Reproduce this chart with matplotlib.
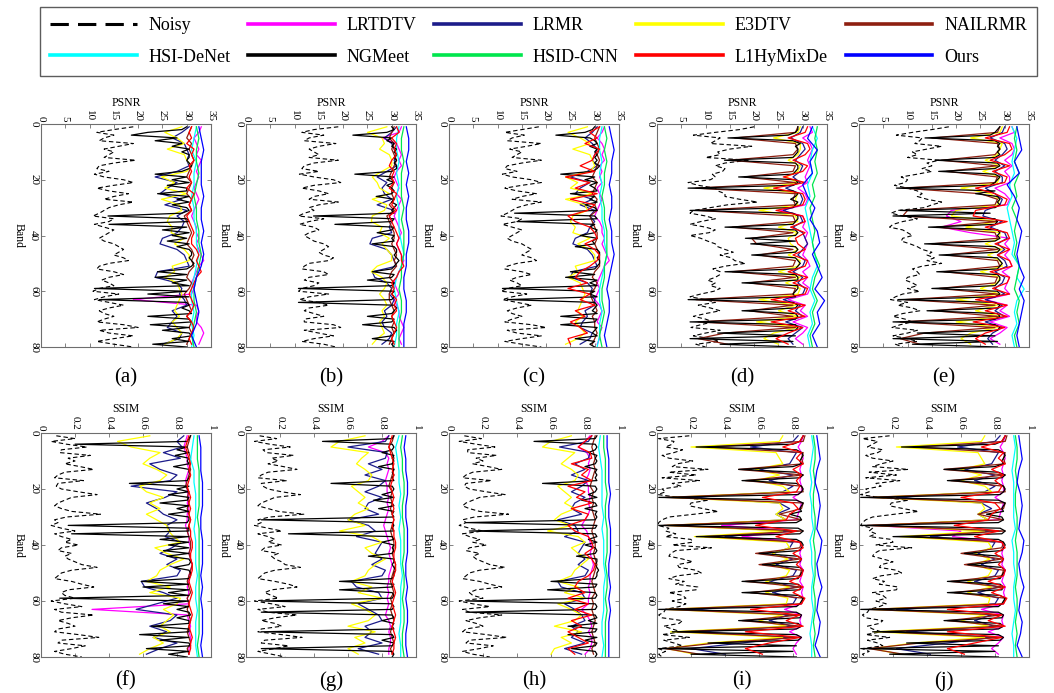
import numpy as np
import matplotlib
matplotlib.use("Agg")
import matplotlib.pyplot as plt
from matplotlib.lines import Line2D
from matplotlib.ticker import FuncFormatter

plt.rcParams['font.family'] = ['Liberation Serif', 'DejaVu Serif']

METHODS = ["Noisy", "LRTDTV", "LRMR", "E3DTV", "NAILRMR",
           "HSI-DeNet", "NGMeet", "HSID-CNN", "L1HyMixDe", "Ours"]
COLORS = {"Noisy": "black", "LRTDTV": "#ff00ff", "LRMR": "#1c1c8a",
          "E3DTV": "#ffff00", "NAILRMR": "#8e1f10", "HSI-DeNet": "#00ffff",
          "NGMeet": "black", "HSID-CNN": "#00e64d", "L1HyMixDe": "#ff0000",
          "Ours": "#0000ff"}

# ---------------- PSNR, case (a) ----------------
a_noisy = [19,15,11.5,15,13,12,19,16,13,15, 14,13,19.5,15,12,11.5,14,11,13,17,
           19,15,11.5,14,18,15,13,19,16,14, 13,12,10.7,15,14,11,13,15,14,13,
           12,13,15,16,17,16,15,17,18,14, 12,11.5,15,17,14,12.5,14,15,12,10.7,
           16,13,11,14,17,14,12,13,15,13, 11.5,17,20,12,14,19,15,11.5,15,19]
a_ngmeet = [30,29,22,18.6,28,23.5,29,27,30.5,29, 30.5,30.5,30,30.5,31,30.5,29,23.5,30,27,
            30.5,26,30,30,24,30.5,28,30.5,27,30, 30.5,29,13.8,30,30.5,14,30,25,30.5,27,
            30,26,30.5,28,30.5,31,31,30.5,31,31.5, 31,30,24,30,23.5,30,27,30.5,11,30,
            22,30.5,12,30,30.5,29,30.5,31,22,30.5, 31,22.5,30.5,25,30.5,31,27,30.5,23,30]
a_lrmr = [30.5,29,27,29.5,30,30.5,30,30.5,28,23.5, 28,26,24.5,29,25.5,30,28,29.5,29,28,
          25,24.5,28,29.5,30,30.5,24,23.5,28,29, 28.5,29.5,30,27,28,27,26,29,28.5,25]
a_e3dtv = [29,25.5,28,29.5,26,29.5,30,31,30,24.8, 27.5,25.5,30,24.8,28.5,29,26.5,26,27,26.8,
           29.5,27.5,29.5,30.5,30.5,27,27.5,25.5,28,28.5, 29,28.5,28,27.5,28.5,27,28,29,28,25.5]
a_nailrmr = [31,30.5,30,31,30.5,31,31.5,31,30.5,30, 31,30.5,30,31,30.5,31,29.5,30,30.5,31,
             30.5,30,31,31.5,31,31.5,30.5,30,31,30.5, 29.5,30,30.5,31,30,31,30.5,31,30.5,30]
a_lrtdtv = [33,32.5,31.5,32,32.5,32,33,32.5,32,32.5, 32,31.5,32,32.5,32,31.5,31,31.5,32,32,
            32.5,32,32.5,33,33.5,32.5,32,31.5,31,31.5, 31,19,32,32.5,32,32,33,33.5,33,32.5]
a_l1hymixde = [31,30.5,31,30,31.5,31,31.5,30.5,31,30.5, 31,30,31.5,31,30.5,31,30,30.5,31,31.5,
               31,31,32,32.5,32,32.5,33,32,31.5,31, 30.5,31,31.5,31,30,31,31.5,31,30.5,31]
a_hsidenet = [32,31.5,31,32,31.5,31.5,31,31.5,31.5,32, 32,32.5,32,31.5,31,31,31.5,31,31.5,31]
a_hsidcnn = [32,32.5,32,32,32.5,32,31.5,32,32,32.5, 32.5,33,32.5,32,31.5,31.5,32,31.5,31,31.5]
a_ours = [32.5,33,33.5,33,33,33,33.5,33,33,33.5, 33,33.5,33,32,31.5,32,32.5,32,31,32]

# ---------------- PSNR, case (b) ----------------
b_noisy = [19,14,11.5,16,13,12,18.5,15,13,14, 15,13,19,14,12,11.5,15,11,14,18,
           19.5,14,11.5,15,17,14,13,19,15,13, 14,12,10.8,16,13,11,14,15,13,12,
           13,14,16,17,16,15,16,18,17,13, 12,11.5,16,17,13,12,15,14,11.5,10.8,
           17,13,11,15,17,13,12,14,16,12, 12,18,19.5,12,15,18,14,11.5,16,18.5]
b_ngmeet = [30,30.5,29,22,30,29,30.5,30,31,30.5, 31,30.5,31,30.5,31,31,30,22.4,30.5,29,
            30.5,29,30,30.5,30,26.8,30.5,30,31,30.5, 30,30.5,13.9,30.5,30,18.3,30.5,30,27,30.5,
            30,30.5,26,30.5,31,31,30.5,31,31.5,31, 30.5,30,26,30.5,30,25,30.5,30,10.8,30.5,
            30,30.5,30,10.8,30.5,31,30.5,30,25,30.5, 30,24,30.5,31,30.5,30,26,30.5,30,30.5]
b_lrmr = [31,30,28.5,30,30.5,31,30.5,31,29,27, 29,28,28.5,30,27,30.5,29.5,30,29.5,30,
          26,25.5,29,30,30.5,31,26,26.5,29,30, 29.5,30.5,30,28.5,29,28,28.5,30,29.5,28]
b_e3dtv = [29,25,28,28.5,27.5,29.5,30,30,28,26, 27,27.5,29.5,26,29,28.5,26,25.8,28,27.5,
           29.5,28,29,30,30,27,25.8,28,29,28.5, 27.5,28.5,29,28,28.5,27.5,28,28.5,27,26]
b_nailrmr = [30.5,30,29.5,30.5,30,30.5,31,30.5,30,29.5, 30.5,30,30,30.5,29.5,30.5,29,29.5,30,30.5,
             30.5,30,30.5,31,30.5,31,30,29.5,30.5,30, 29.5,29.5,30,30.5,30,30.5,30,30.5,30,29.5]
b_lrtdtv = [32,31.5,28,31,31.5,32,31.5,32,31,30.5, 31,31.5,31,32,31.5,31,30.5,31,31.5,32,
            31.5,31,31.5,32,32.5,32,31.5,31,30.5,31, 31.5,30.5,31,31.5,31.5,32,32.5,32,31.5,32]
b_l1hymixde = [31,31.5,30,31,30.5,31,30,29.5,30.5,30, 30.5,29.5,31,30.5,30,31,29.5,30,30.5,31,
               31.5,31,31.5,32,32,32.5,31.5,31,30,30.5, 30,31,30.5,31,30,30.5,31,30.5,30,30.5]
b_hsidenet = [31.5,31,31,31.5,31,31.5,31,31.5,31.5,31.5, 32,32.5,32,31,30.5,31,31.5,31,31,30.5]
b_hsidcnn = [32.5,32,32,32.5,32,32,32,32.5,32,32.5, 32.5,32.5,32,32,31.5,32,32,31.5,31.5,31.5]
b_ours = [33,33.5,33.5,33,33.5,33,33.5,33,33,33.5, 33.5,33,33,32.5,32.5,33,33,32.5,32.5,32.5]

# ---------------- PSNR, case (c) ----------------
c_noisy = [18.5,15,11.5,15.5,13,12,19,16,12.5,15, 14,13,19,15,12,11.5,14,11,13,17,
           19,15,11.5,14,18,15,13,19,16,14, 13,12,10.7,15,14,11,13,15,14,13,
           12,13,15,16,17,16,15,17,18,14, 12,11.5,15,17,14,12.5,14,15,12,10.7,
           16,13,11,14,17,14,12,13,15,13, 11.5,17,20,12,14,19,15,11.5,15,19]
c_ngmeet = [30,29.5,28,22,29,30,30.5,29,30.5,30, 30.5,30,30.5,30,31,30.5,29.5,23,30,28,
            30.5,29,30,30.5,25,30,29,30.5,28,30, 30.5,13.5,30,30.5,14,30,29,30.5,30,27,
            30.5,29.5,30,26,30.5,31,31,30.5,31,31, 30.5,30,25,30,24,30.5,29,30.5,11,30,
            29,30.5,12,30,30.5,30,29.5,30.5,23,30.5, 30,23,30.5,30,29.5,30.5,26,30,29,30]
c_lrmr = [30.5,29.5,28,29.5,30.5,30,29.5,30.5,28.5,25, 29,27,26,29.5,27,30,29,30,29,28.5,
          26,25.5,28.5,29.5,30,30.5,25.5,25,28.5,29.5, 29,30,30,28,28.5,27.5,27,29.5,29,27]
c_e3dtv = [28.5,24.5,27,29,25.5,29,29.5,30,29,24, 26.5,25,29.5,24,28,28.5,25.5,25,26,25.5,
           29,26.5,29,30,30,26,26.5,24.5,27,27.5, 28,27.5,27,26.5,27.5,26,27,28,26.5,24]
c_nailrmr = [31,30.5,30,30.5,31,30.5,31,30.5,30,29.5, 30.5,30,29.5,30.5,30,30.5,29,29.5,30,30.5,
             30.5,30,30.5,31,31,31,30,29.5,30.5,30, 29,29.5,30,30.5,29.5,30,30,30.5,30,29.5]
c_lrtdtv = [32,31.5,30.5,31.5,32,31.5,32,31,31.5,31, 31.5,30.5,31,31.5,31,30.5,30,31,31.5,31.5,
            32,31.5,32,32.5,33,32,31.5,31,30.5,31, 30.5,30,31,31.5,31,30.5,31.5,31,31,30.5]
c_l1hymixde = [31,29,30.5,28,31,30,29.5,27,30,24, 29,26,30.5,25,30,28.5,24.5,26,29,30,
               30.5,28,30,31,30.5,29,27,26,28.5,24.5, 29,27,30,26,28,25,27,28.5,24.5,25]
c_hsidenet = [31.5,31,31,31.5,31,31.5,31,31.5,31.5,32, 32,32.5,32,31.5,31,31,31.5,31,31,30.5]
c_hsidcnn = [32,32.5,32,32.5,32,32,31.5,32,32,32.5, 32.5,32.5,32,32,31.5,31.5,32,31.5,31,31.5]
c_ours = [33,33.5,34,33.5,33.5,33,33.5,33.5,33,33.5, 33.5,34,33.5,33,32.5,33,33,32.5,32,32.5]

# ---------------- PSNR, case (d) ----------------
d_noisy = [20,17,12,7.5,13,12,11,19.5,15,12.5, 13,10,19,14,12,14,13.5,11.4,12,11,
           6.4,8.5,12,12.5,14,14,17,20.7,14.5,11, 7.5,6.8,10,12,9,6.8,10,12,10.7,6.8,
           9,10.4,12,12.5,14,15.7,13,15.3,16,18.2, 14,11.5,13,13,12,10.4,12,11,13,11.7,
           9,6.8,10,12,8.5,11,13,10,7.5,10, 11.5,9,7,13,10,7.5,11,12.8,8,10]
d_ngmeet = [29,29,28.5,27,14.6,28,29.5,28.5,29,29, 28.5,28,13.9,28.5,29,29,28.5,28,16.8,28.5,
            29,28,6.4,28,29,28.5,27.5,29,28.5,28, 6.8,28,29,29,28.5,28,14,28.5,29,28.5,
            18.2,28.5,19.3,28.5,29,28.5,19.5,28.5,29,29.5, 29,28.5,14,28.5,29,29,17.5,29,29,28.5,
            28,28.5,6.4,28,29,28.5,17.5,28.5,29,28.5, 6.8,28.5,29,28.5,12.5,28.5,6.8,28,13,28.5]
d_lrmr = [30,29.5,27.5,30,30.5,29.5,28.5,30,29.5,28, 29.5,26.5,29.5,30,29.5,26,29.5,30,28,30,
          30.5,31,30,29,30.5,30,28,30,29,30.5, 30,26,29.5,28.5,30,26.5,30,28.5,27,28]
d_e3dtv = [29.5,29,24,29.5,29.5,29,27,29.5,29,26.5, 29,22,29,28.5,29,21,28.5,29,25,29,
           27,27.5,29,27,29.5,29,25,29.5,26.5,29.5, 29,21,28.5,25,29,20.5,29,24,22,25]
d_nailrmr = [29,28.5,16,28.5,29,28,15,28.5,28,18, 28.5,8,28.5,28,28.5,8.5,28,28.5,15.5,28,
             19.5,20.5,28,21,28.5,28,15.5,28.5,19,28.5, 28,8,28,19,28,8.5,28.5,14,8.5,14.5]
d_lrtdtv = [31.5,32,30,31.5,32,31.5,31,31.5,31,30.5, 31,29,30.5,31,30.5,25.5,30,30.5,30,31,
            30.5,31,30.5,30,31,31.5,30,31,30,31.5, 31,27,30.5,29.5,31,28,31,30,28.5,30]
d_l1hymixde = [31,30.5,27,31,31.5,30.5,28,31,30,26, 30.5,24,30,30.5,30,24.5,30,30.5,27.5,30.5,
               28.5,29,30.5,28,31,30.5,27,31,28,31, 30.5,23.5,30.5,27,30.5,23.5,30,27,24.5,27]
d_hsidenet = [32,33,32,31.5,32,31,31.5,30.5,31,31.5, 32,32.5,33,32,31.5,32.5,31.5,32,31,31.5]
d_hsidcnn = [33,32.5,33,32.5,33,32,32.5,31.5,32,32.5, 32,32.5,33.5,32.5,32,33,32,32.5,31.5,32]
d_ours = [32,31,33,31.5,32,30,31,32.5,31.5,33, 33.5,32,33,34,32.5,34.5,33,33.5,32,33]

# ---------------- PSNR, case (e) ----------------
e_noisy = [18.5,15,11,7.7,13,12.5,11.5,17,14,11, 12,10,16.5,14,15,13,15,12,8.7,10,
           9.5,7.3,10,12,13,12,14,17,15,13.5, 8,6.6,9,12,9,7,6.3,9,10,11,
           9,8.7,10.5,12,13,15,14,15.5,14,17, 13,11,12,12.5,10,9.5,11,12,10,12.5,
           9,7.5,6.5,10,8,11,12.5,9,7,9.5, 11,8.5,6.8,12,10,7,10,12,7.5,9]
e_ngmeet = [29,28.5,28,27,13.6,28,29,28.5,29,28.5, 29,28,15.7,28.5,29,28,16.4,28,29,28.5,
            28,27,7.7,28,24,28.5,29,28.5,29,28, 8.5,27,7,28,28.5,28,14.3,28.5,29,28.5,
            29,28,13.5,28,29,28.5,16.5,28.5,29,29.5, 29,28.5,16,28.5,29,29,28.5,28,15,28.5,
            29,28,8,28,29,28.5,14,28.5,29,28, 7,28,29,28.5,12,28,7,28.5,11,28.5]
e_lrmr = [30,29.5,27,30,30.5,29.5,28,30,28,29.5, 29.5,26,28,29.5,29,26,25.5,29.5,27,30,
          30.5,28.5,30,28.5,30,30.5,28,30,29.5,28, 30,26,29.5,28,30,26,29.5,27.5,26.5,27.5]
e_e3dtv = [29.5,29,23,29.5,29,28.5,26,29,25.5,29, 28.5,21,27,29,28.5,20,19,28.5,22,29,
           29,26,29.5,26.5,29,29.5,25,29,28.5,25, 29,20,28.5,24,29,20,28.5,23,21,23]
e_nailrmr = [29,28.5,15,28.5,29,28,17,28.5,18,28.5, 28,9,25,28.5,28,10,9,28.5,16,28,
             28.5,15,28.5,18,28.5,29,17.5,28.5,28,16.5, 28.5,9.5,28,15.5,28.5,8.5,28,13.5,8.5,12.5]
e_lrtdtv = [31.5,32,29,31.5,32,31.5,30,31.5,30,31, 31,28,30,31,30.5,19,18,21,17,23,
            31,30,31,30,31,31.5,29.5,31,30.5,30, 31,26,30.5,29,31,27,30.5,29,27,29]
e_l1hymixde = [31,30.5,26,31,31.5,30,27,31,27.5,30.5, 30,24,28,30.5,30,24,23.5,30.5,26,30.5,
               31,28,31,28.5,31,31.5,27,31,30.5,27.5, 31,24,30.5,26,30.5,23.5,30,26,24,26]
e_hsidenet = [31.5,32.5,32,31.5,32,31,31.5,30.5,31,31.5, 32,31.5,33,32.5,34,32.5,32,32.5,31.5,32]
e_hsidcnn = [32.5,32,32.5,32,33,32,32.5,31.5,32.5,32, 32.5,32,33,32.5,32,33,32.5,33,32,32.5]
e_ours = [32.5,33,33.5,32,33,30.5,32,33,32.5,33.5, 33,32.5,33,34,33,34,33.5,33,32.5,33]

# ---------------- SSIM (x100), case (f) ----------------
f_noisy = [9,20,6,15,27,12,11,29,16,20, 14,23,31,14,10,8,25,10,9,12,
           22,33,18,14,10,8,12,18,35,15, 8,10,6,12,20,8,12,18,14,22,
           12,10,18,14,16,20,24,33,18,12, 10,8,18,24,31,16,12,14,20,6,
           14,24,8,12,31,18,10,16,20,10, 8,22,34,12,10,26,18,8,14,24]
f_ngmeet = [88,87,86,20,86,80,87,79,87,86, 87,78,87,87,88,87,86,52,87,80,
            87,75,87,86,70,87,80,87,75,87, 87,86,16,87,87,18,87,70,87,75,
            87,72,87,74,87,88,87,78,87,88, 88,87,59,87,60,87,75,87,11,87,
            72,87,80,87,88,80,87,87,65,87, 87,58,87,70,87,88,62,87,75,86]
f_lrmr = [84,80,83,72,82,64,70,80,76,53, 80,73,62,68,72,80,74,76,73,82,
          77,70,80,74,82,80,59,61,72,80, 68,56,80,76,64,74,66,80,70,62]
f_e3dtv = [64,45,53,70,64,60,68,74,70,58, 62,72,64,70,62,68,74,75,78,82,
           67,74,84,76,70,68,62,76,64,82, 80,72,78,74,70,76,66,72,64,58]
f_nailrmr = [88,87,86,87,88,87,88,87,86,85, 87,86,87,86,87,88,87,86,87,88,
             88,87,88,89,88,87,86,87,88,86, 87,86,87,88,87,86,87,88,86,87]
f_lrtdtv = [86,85,84,85,86,86,87,86,85,86, 86,87,86,87,86,86,85,86,87,87,
            88,87,88,89,88,87,87,86,87,86, 87,30,86,87,88,87,88,88,87,87]
f_l1hymixde = [87,86,85,86,87,88,87,88,87,86, 87,88,87,88,87,88,87,88,88,89,
               89,88,88,89,89,88,87,88,89,88, 87,88,89,88,87,88,89,88,88,87]
f_hsidenet = [90,89,88,90,90,91,91,91,90,91, 91,91,92,91,91,92,91,91,91,92]
f_hsidcnn = [92,92,92,93,93,93,93,92,93,93, 93,93,93,93,93,93,93,93,92,93]
f_ours = [93,94,94,94,95,95,95,94,94,95, 95,95,94,95,94,95,95,95,94,95]

# ---------------- SSIM (x100), case (g) ----------------
g_noisy = [8,18,5,14,26,10,12,28,15,19, 13,22,30,13,9,7,24,9,10,13,
           21,32,17,13,9,7,13,19,34,14, 7,9,5,13,21,7,13,17,13,21,
           11,9,19,15,17,21,23,32,17,11, 9,7,17,25,30,15,11,15,19,5,
           15,23,7,13,30,17,9,17,21,9, 7,21,33,11,9,25,17,7,15,23]
g_ngmeet = [87,86,45,86,87,86,80,87,86,87, 86,78,87,86,87,86,87,50,86,87,
            86,80,87,75,86,87,78,87,86,87, 9,86,87,86,87,25,86,87,80,87,
            86,87,86,72,87,87,86,87,88,87, 87,86,55,87,86,55,86,87,86,9,
            86,87,86,9,86,87,80,87,86,87, 9,86,87,80,87,86,9,86,87,86]
g_lrmr = [84,82,60,83,82,72,80,70,82,78, 70,80,72,70,78,60,72,76,65,80,
          78,76,80,74,82,80,62,65,78,80, 66,72,78,80,70,74,70,80,66,78]
g_e3dtv = [70,55,50,72,68,65,70,74,72,62, 66,70,66,72,64,60,70,55,74,80,
           70,74,82,76,72,70,62,74,66,80, 62,70,76,72,60,76,64,70,60,66]
g_nailrmr = [87,86,84,86,87,86,87,86,85,84, 86,85,86,85,86,87,86,85,86,87,
             87,86,87,88,87,86,85,86,87,85, 86,85,86,87,86,85,86,87,85,86]
g_lrtdtv = [84,80,72,82,84,83,84,83,82,83, 83,84,83,84,83,82,81,82,83,84,
            85,84,85,86,85,84,84,83,84,83, 84,83,82,84,85,84,85,85,84,84]
g_l1hymixde = [86,85,84,85,86,87,86,87,86,85, 86,87,86,87,86,87,86,87,87,88,
               88,87,87,88,88,87,86,87,88,87, 86,87,88,87,86,87,88,87,87,86]
g_hsidenet = [90,88,89,90,90,91,90,91,90,91, 91,91,92,91,91,91,91,90,91,91]
g_hsidcnn = [92,91,92,92,93,93,92,92,93,93, 93,92,93,93,92,93,93,92,92,93]
g_ours = [94,93,94,94,95,95,94,94,95,95, 95,94,94,95,94,95,95,94,94,95]

# ---------------- SSIM (x100), case (h) ----------------
h_noisy = [9,19,6,16,27,11,11,28,16,20, 14,23,31,14,10,8,25,10,9,12,
           22,33,18,14,10,8,12,18,35,15, 8,10,6,12,20,8,12,18,14,22,
           12,10,18,14,16,20,24,33,18,12, 10,8,18,24,31,16,12,14,20,6,
           14,24,8,12,31,18,10,16,20,10, 8,22,34,12,10,26,18,8,14,24]
h_ngmeet = [87,86,50,86,87,86,82,87,86,87, 86,80,87,86,87,86,87,55,86,87,
            86,82,87,78,86,87,80,87,86,87, 86,10,87,86,12,86,87,82,87,80,
            86,87,86,75,87,87,86,87,88,87, 87,86,60,87,86,58,86,87,86,10,
            86,87,86,10,86,87,82,87,70,87, 86,70,87,80,87,86,72,86,87,86]
h_lrmr = [84,82,65,83,82,74,80,72,82,78, 72,80,74,72,78,64,74,76,68,80,
          78,76,80,76,82,80,64,66,78,80, 68,74,78,80,72,76,72,80,68,78]
h_e3dtv = [72,60,55,74,70,66,72,76,74,64, 68,72,68,74,66,62,72,58,76,80,
           72,76,82,78,74,72,64,76,68,80, 64,72,78,74,62,78,66,72,62,60]
h_nailrmr = [86,85,84,85,86,85,86,85,84,83, 85,84,85,84,85,86,85,84,85,86,
             86,85,86,87,86,85,84,85,86,84, 85,84,85,86,85,84,85,86,84,85]
h_lrtdtv = [83,80,76,81,83,82,83,82,80,82, 82,83,82,83,82,80,78,81,82,83,
            84,83,84,85,84,83,83,82,83,82, 82,78,81,83,84,82,84,84,83,80]
h_l1hymixde = [84,80,76,83,84,72,82,78,84,70, 80,75,84,72,82,80,70,74,82,84,
               85,80,84,86,85,82,76,74,80,70, 82,74,84,72,78,70,76,82,70,74]
h_hsidenet = [89,88,89,90,90,90,90,91,90,91, 91,91,92,91,91,91,90,90,91,90]
h_hsidcnn = [91,91,92,92,92,93,92,92,93,93, 93,92,93,93,92,93,92,92,92,92]
h_ours = [93,93,94,94,94,95,94,94,95,95, 95,94,94,95,94,95,94,94,94,94]

# ---------------- SSIM (x100), case (i) ----------------
i_noisy = [19,1,10,9,5,15,10,3,7,21, 12,9,30,7,23,3,25,9,14,3,
           5,0.5,13,30,20,19,27,36,22,7, 3,1,0.5,7,5,11,5,20,21,9,
           32,11,8,7,15,21,12,13,23,26, 12,7,16,11,24,23,7,15,17,9,
           17,13,5,4,1,3,15,13,4,9, 14,3,19,4,10,15,1,5,1,3]
i_ngmeet = [86,85,84,80,23,82,85,86,85,84, 85,80,48,82,86,84,50,82,85,86,
            85,83,1,82,86,85,84,85,78,84, 85,82,1,83,86,84,23,82,85,86,
            85,84,60,83,85,84,62,84,86,85, 84,83,50,83,85,84,50,83,86,85,
            84,82,1,82,85,84,48,83,85,82, 9,82,85,83,30,82,1,80,20,82]
i_lrmr = [83,80,55,82,80,78,60,80,66,80, 74,20,72,78,70,76,10,78,40,80,
          78,68,80,70,82,80,66,82,68,82, 80,20,78,66,80,25,78,50,20,40]
i_e3dtv = [74,72,20,70,72,74,58,72,58,74, 78,8,72,74,70,76,6,74,22,76,
           78,68,77,68,78,76,64,78,64,77, 76,6,74,60,76,8,74,30,6,22]
i_nailrmr = [87,86,30,86,85,86,48,86,52,85, 86,5,86,85,72,85,4,86,28,85,
             84,58,84,60,85,84,52,85,55,86, 85,5,84,50,85,12,84,35,5,25]
i_lrtdtv = [86,85,83,85,86,85,84,85,84,85, 85,80,85,84,83,82,38,80,50,84,
            85,84,85,84,86,85,84,86,85,86, 85,75,85,84,85,78,85,82,80,82]
i_l1hymixde = [86,84,74,85,82,86,80,85,82,84, 82,62,80,83,78,76,58,82,70,84,
               86,80,85,82,86,85,78,86,80,87, 85,55,84,76,86,52,84,66,52,62]
i_hsidenet = [91,92,91,90,91,90,91,91,92,90, 91,91,92,91,91,92,91,90,91,91]
i_hsidcnn = [92,93,93,92,93,92,92,93,93,92, 93,93,93,92,93,93,92,93,92,93]
i_ours = [94,95,96,94,93,95,96,95,94,97, 96,94,95,97,95,94,96,95,93,96]

# ---------------- SSIM (x100), case (j) ----------------
j_noisy = [18,2,11,8,5,14,11,4,8,20, 13,8,29,6,22,4,24,10,13,4,
           6,1,12,29,19,18,26,35,21,8, 4,2,1,8,6,10,6,19,20,10,
           31,12,9,8,14,20,13,12,22,25, 13,8,15,12,23,22,8,14,16,10,
           16,12,6,5,2,4,14,12,5,8, 13,4,18,5,11,14,2,6,2,4]
j_ngmeet = [86,85,84,80,25,82,85,86,85,84, 85,80,50,82,86,84,52,82,85,86,
            85,83,1,82,86,85,84,85,75,84, 85,82,1,83,86,84,20,82,85,86,
            85,84,62,83,85,84,64,84,86,85, 84,83,52,83,85,84,52,83,86,85,
            84,82,1,82,85,84,50,83,85,82, 8,82,85,83,28,82,1,80,18,82]
j_lrmr = [83,80,58,82,80,78,62,80,68,80, 74,22,72,78,70,76,12,78,42,80,
          78,70,80,72,82,80,68,82,70,82, 80,22,78,68,80,28,78,52,22,42]
j_e3dtv = [74,72,22,70,72,74,60,72,60,74, 78,9,72,74,70,76,8,74,24,76,
           78,68,77,68,78,76,64,78,64,77, 76,8,74,60,76,9,74,32,8,24]
j_nailrmr = [87,86,32,86,85,86,50,86,54,85, 86,6,86,85,70,85,5,86,30,85,
             84,60,84,62,85,84,54,85,56,86, 85,6,84,52,85,14,84,36,6,26]
j_lrtdtv = [86,85,83,85,86,85,84,85,84,85, 85,80,85,84,83,82,8,60,55,84,
            85,84,85,84,86,85,84,86,85,86, 85,72,85,84,85,76,85,82,78,82]
j_l1hymixde = [86,84,72,85,82,86,78,85,80,84, 82,60,80,83,78,76,56,82,68,84,
               86,80,85,82,86,85,76,86,78,87, 85,52,84,76,86,52,84,68,52,62]
j_hsidenet = [91,92,91,90,91,91,91,91,92,90, 91,91,92,91,91,92,91,90,91,91]
j_hsidcnn = [92,93,93,92,93,92,92,93,93,92, 93,93,93,92,93,93,92,93,92,93]
j_ours = [94,95,96,94,93,95,96,95,94,97, 96,94,95,97,95,94,96,95,93,96]


def series_of(prefix):
    g = globals()
    keys = ["noisy", "lrtdtv", "lrmr", "e3dtv", "nailrmr",
            "hsidenet", "ngmeet", "hsidcnn", "l1hymixde", "ours"]
    return {m: g[f"{prefix}_{k}"] for m, k in zip(METHODS, keys)}


PANELS = [("a", "PSNR"), ("b", "PSNR"), ("c", "PSNR"), ("d", "PSNR"), ("e", "PSNR"),
          ("f", "SSIM"), ("g", "SSIM"), ("h", "SSIM"), ("i", "SSIM"), ("j", "SSIM")]

W, H = 1054, 693
COL_X = [(41, 211), (246, 416), (449, 619), (657, 827), (859, 1029)]
ROW_Y = [(124, 347), (433, 657)]
LABEL_Y = [378, 681]

fig = plt.figure(figsize=(W / 100, H / 100), dpi=100)


def band_positions(n):
    if n == 80:
        return np.arange(1, 81)
    if n == 40:
        return np.arange(1, 80, 2)
    return np.linspace(1, 80, n)


def style(name):
    if name == "Noisy":
        return dict(color="black", lw=0.8, dashes=(4, 2.5))
    return dict(color=COLORS[name], lw=0.9)


spine_col = "#6e6e6e"
for idx, (key, metric) in enumerate(PANELS):
    r, c = divmod(idx, 5)
    x0, x1 = COL_X[c]
    y0, y1 = ROW_Y[r]
    ax = fig.add_axes([x0 / W, 1 - y1 / H, (x1 - x0) / W, (y1 - y0) / H])
    data = series_of(key)
    for name in METHODS:
        vals = np.asarray(data[name], dtype=float)
        if metric == "SSIM":
            vals = vals / 100.0
        ax.plot(vals, band_positions(len(vals)), **style(name))
    if metric == "PSNR":
        ax.set_xlim(0, 35)
        ax.set_xticks(np.arange(0, 36, 5))
    else:
        ax.set_xlim(0, 1)
        ax.set_xticks([0, 0.2, 0.4, 0.6, 0.8, 1.0])
        ax.xaxis.set_major_formatter(FuncFormatter(lambda v, p: f"{v:g}"))
    ax.set_ylim(80, 0)
    ax.set_yticks([0, 20, 40, 60, 80])
    ax.xaxis.tick_top()
    ax.xaxis.set_label_position("top")
    ax.tick_params(axis="both", direction="in", length=3, width=0.6, colors=spine_col,
                   labelcolor="black", labelsize=8, pad=2,
                   top=True, bottom=True, left=True, right=True,
                   labeltop=True, labelbottom=False)
    ax.tick_params(axis="x", labelrotation=-90)
    ax.tick_params(axis="y", labelrotation=-90)
    for t in ax.get_yticklabels():
        t.set_va("center")
    ax.set_xlabel(metric, fontsize=8.5, labelpad=3)
    ax.set_ylabel("Band", fontsize=8.5, rotation=-90, va="top", labelpad=3)
    for s in ax.spines.values():
        s.set_color(spine_col)
        s.set_linewidth(0.8)
    fig.text((x0 + x1) / 2 / W, 1 - LABEL_Y[r] / H, f"({key})",
             ha="center", va="center", fontsize=15)

# legend, filled row by row
handles = []
for name in METHODS:
    if name == "Noisy":
        handles.append(Line2D([], [], color="black", lw=2.2, dashes=(6, 3)))
    else:
        handles.append(Line2D([], [], color=COLORS[name], lw=2.6))
order = [0, 5, 1, 6, 2, 7, 3, 8, 4, 9]
leg = fig.legend([handles[i] for i in order], [METHODS[i] for i in order],
                 ncol=5, loc="center", mode="expand",
                 bbox_to_anchor=(40 / W, 1 - 75 / H, 997 / W, 67 / H),
                 fontsize=13, handlelength=4.8, handletextpad=0.65,
                 labelspacing=0.8, borderpad=0.55, fancybox=False,
                 frameon=True, edgecolor="#333333", borderaxespad=0)
leg.get_frame().set_linewidth(1.0)

fig.savefig("out.png", dpi=100)
